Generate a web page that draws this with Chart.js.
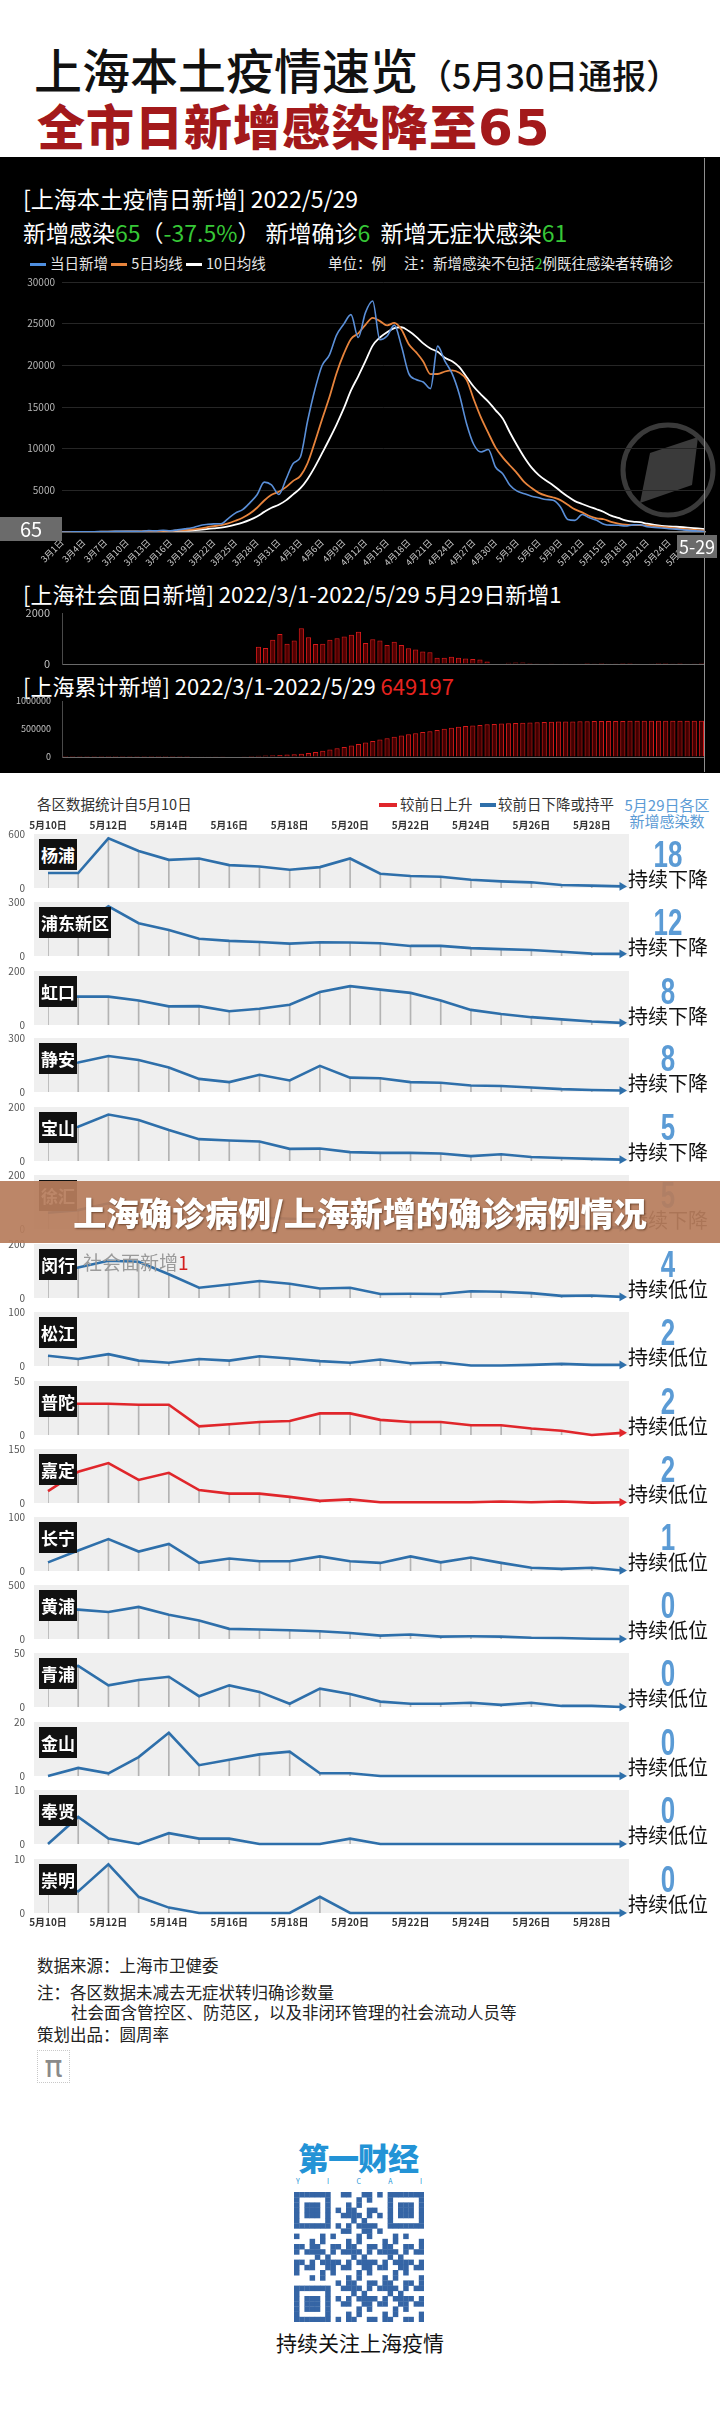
<!DOCTYPE html>
<html lang="zh-CN">
<head>
<meta charset="utf-8">
<title>上海本土疫情速览</title>
<script src="https://cdn.jsdelivr.net/npm/chart.js@4.4.1/dist/chart.umd.min.js"></script>
<style>
html,body{margin:0;padding:0;background:#fff;}
#page{position:relative;width:720px;height:2426px;overflow:hidden;background:#fff;font-family:"Noto Sans CJK SC","Noto Sans",sans-serif;}
.a{position:absolute;white-space:nowrap;line-height:1;}
canvas{position:absolute;}
.g{color:#37c837;}
.dash{display:inline-block;width:16px;height:3px;vertical-align:middle;margin:0 4px 2px 0;}
.tag{position:absolute;left:39px;height:31px;line-height:31px;padding:0 2px;background:#111;color:#fff;font-weight:bold;font-size:17px;z-index:5;white-space:nowrap;}
.bg{position:absolute;left:34px;width:595px;height:54px;background:#efefef;z-index:1;}
.num{position:absolute;left:627px;width:82px;text-align:center;line-height:1;font-family:"Liberation Sans",Arial,sans-serif;font-weight:bold;font-size:36px;color:#5b9bd5;z-index:3;}
.num span{display:inline-block;transform:scaleX(0.72);}
.trend{position:absolute;left:627px;width:82px;text-align:center;font-size:20px;line-height:1;color:#111;z-index:3;white-space:nowrap;}
</style>
</head>
<body>
<div id="page">
  <!-- header -->
  <div class="a" style="left:34px;top:44px;font-size:48px;font-weight:500;color:#111;">上海本土疫情速览<span style="font-size:34px;">（5月30日通报）</span></div>
  <div class="a" style="left:37px;top:100px;font-size:48px;font-weight:900;color:#a3191b;letter-spacing:1px;">全市日新增感染降至<span style="font-family:'DejaVu Sans',sans-serif;font-weight:bold;font-size:50px;letter-spacing:2px;">65</span></div>

  <!-- black panel -->
  <div class="a" style="left:0;top:157px;width:720px;height:616px;background:#000;"></div>
  <svg class="a" style="left:615px;top:418px;z-index:1" width="106" height="106">
    <circle cx="53" cy="52" r="45" fill="none" stroke="#3a3a3a" stroke-width="5"/>
    <polygon points="35,35 83,19 77,67 25,85" fill="#3a3a3a"/>
  </svg>
  <div class="a" style="left:704px;top:158px;width:1px;height:614px;background:#8f8f8f;z-index:3"></div>
  <div class="a" style="left:23px;top:187px;font-size:23px;color:#fff;">[上海本土疫情日新增] 2022/5/29</div>
  <div class="a" style="left:23px;top:221px;font-size:23px;color:#fff;">新增感染<span class="g">65</span>（<span class="g">-37.5%</span>）&nbsp;新增确诊<span class="g">6</span>&nbsp;&nbsp;新增无症状感染<span class="g">61</span></div>
  <div class="a" style="left:30px;top:256px;font-size:14.5px;color:#e6e6e6;"><span class="dash" style="background:#4f8fe0"></span>当日新增 <span class="dash" style="background:#e8843c"></span>5日均线 <span class="dash" style="background:#fff"></span>10日均线</div>
  <div class="a" style="left:328px;top:256px;font-size:14.5px;color:#e6e6e6;">单位：例</div>
  <div class="a" style="left:404px;top:256px;font-size:14.5px;color:#e6e6e6;">注：新增感染不包括<span class="g">2</span>例既往感染者转确诊</div>
  <div class="a" style="left:0;top:517px;width:62px;height:24px;line-height:24px;text-align:center;background:#6b6b6b;color:#fff;font-size:20px;z-index:4">65</div>
  <div class="a" style="left:677px;top:535px;width:40px;height:23px;line-height:23px;text-align:center;background:#6b6b6b;color:#fff;font-size:18px;z-index:4">5-29</div>
  <div class="a" style="left:23px;top:582px;font-size:22px;color:#fff;">[上海社会面日新增] 2022/3/1-2022/5/29 5月29日新增1</div>
  <div class="a" style="left:23px;top:674px;font-size:22px;color:#fff;">[上海累计新增] 2022/3/1-2022/5/29 <span style="color:#e8231f">649197</span></div>

  <!-- district header -->
  <div class="a" style="left:37px;top:797px;font-size:14.5px;color:#333;">各区数据统计自5月10日</div>
  <div class="a" style="left:379px;top:803px;width:18px;height:4px;background:#e0262b;"></div>
  <div class="a" style="left:400px;top:797px;font-size:14.5px;color:#333;">较前日上升</div>
  <div class="a" style="left:480px;top:803px;width:16px;height:4px;background:#2e6faa;"></div>
  <div class="a" style="left:498px;top:797px;font-size:14.5px;color:#333;">较前日下降或持平</div>
  <div class="a" style="left:624px;top:797px;width:86px;text-align:center;font-size:15px;color:#5b9bd5;">5月29日各区</div>
  <div class="a" style="left:624px;top:813px;width:86px;text-align:center;font-size:15px;color:#5b9bd5;">新增感染数</div>
  <div class="a" style="left:83px;top:1252px;font-size:19px;color:#9a9a9a;z-index:4">社会面新增<span style="color:#d42020">1</span></div>

  <!-- banner -->
  <div class="a" style="left:0;top:1181px;width:720px;height:62px;background:rgba(183,125,92,0.93);z-index:10;"></div>
  <div class="a" style="left:0;top:1196px;width:720px;text-align:center;font-size:33px;font-weight:900;color:#fff;z-index:11;text-shadow:1px 1px 2px rgba(60,30,10,0.6);">上海确诊病例/上海新增的确诊病例情况</div>

  <!-- footer -->
  <div class="a" style="left:37px;top:1957px;font-size:16.5px;color:#222;">数据来源：上海市卫健委</div>
  <div class="a" style="left:37px;top:1984px;font-size:16.5px;color:#222;">注：各区数据未减去无症状转归确诊数量</div>
  <div class="a" style="left:71px;top:2004px;font-size:16.5px;color:#222;">社会面含管控区、防范区，以及非闭环管理的社会流动人员等</div>
  <div class="a" style="left:37px;top:2026px;font-size:16.5px;color:#222;">策划出品：圆周率</div>
  <div class="a" style="left:37px;top:2050px;width:31px;height:31px;border:1px dotted #c8c8c8;text-align:center;line-height:31px;font-size:30px;color:#8a8a8a;font-family:'DejaVu Sans',sans-serif;">π</div>
  <div class="a" style="left:294px;top:2141px;width:128px;text-align:center;font-size:31px;font-weight:900;color:#2393d6;letter-spacing:-1px;">第一财经</div>
  <div class="a" style="left:296px;top:2178px;width:126px;font-size:7px;color:#2393d6;display:flex;justify-content:space-between;"><span>Y</span><span>I</span><span>C</span><span>A</span><span>I</span></div>
  <div id="qr" class="a" style="left:294px;top:2192px;width:130px;height:130px;"></div>
  <div class="a" style="left:0;top:2332px;width:720px;text-align:center;font-size:21px;color:#111;">持续关注上海疫情</div>
</div>

<script>
// ===== Data: Shanghai daily new infections, 2022/3/1 - 2022/5/29 =====
const dayLabels = ["3月1日","3月2日","3月3日","3月4日","3月5日","3月6日","3月7日","3月8日","3月9日","3月10日","3月11日","3月12日","3月13日","3月14日","3月15日","3月16日","3月17日","3月18日","3月19日","3月20日","3月21日","3月22日","3月23日","3月24日","3月25日","3月26日","3月27日","3月28日","3月29日","3月30日","3月31日","4月1日","4月2日","4月3日","4月4日","4月5日","4月6日","4月7日","4月8日","4月9日","4月10日","4月11日","4月12日","4月13日","4月14日","4月15日","4月16日","4月17日","4月18日","4月19日","4月20日","4月21日","4月22日","4月23日","4月24日","4月25日","4月26日","4月27日","4月28日","4月29日","4月30日","5月1日","5月2日","5月3日","5月4日","5月5日","5月6日","5月7日","5月8日","5月9日","5月10日","5月11日","5月12日","5月13日","5月14日","5月15日","5月16日","5月17日","5月18日","5月19日","5月20日","5月21日","5月22日","5月23日","5月24日","5月25日","5月26日","5月27日","5月28日","5月29日"];

const dailyNew = [2,8,16,19,28,48,55,65,80,75,
  83,65,169,139,202,158,260,374,509,758,
  896,981,983,1609,2269,2676,3500,4477,5982,5653,4502,
  6311,8226,9006,13354,17077,19982,21222,23624,24943,26087,
  23342,26330,27719,23072,23513,24820,22248,19000,18300,18000,
  17200,22300,20500,19000,16500,13000,10500,9600,9900,7800,
  7000,5600,4900,4600,4300,4100,3900,3800,3000,1500,
  1400,2100,1700,1400,940,820,810,720,860,870,
  630,560,480,390,340,260,170,120,65];

const avg5 = [2,5,9,11,15,24,33,43,55,65,
  72,76,94,106,131,147,186,227,301,412,
  559,704,825,1045,1348,1704,2207,2906,3781,4458,4823,
  5385,6135,6740,8280,10795,13529,16128,19052,21370,23172,
  23844,24865,25684,25310,24795,25091,24274,22531,21576,20474,
  18950,18960,19260,19400,19100,18260,15900,13720,11900,10160,
  8960,7980,7040,5980,5280,4700,4360,4140,3820,3260,
  2720,2360,1920,1640,1530,1210,1010,870,830,820,
  780,700,620,520,440,360,290,230,170];

const avg10 = [2,5,9,11,15,20,25,30,36,41,
  48,53,69,80,98,110,131,161,204,272,
  353,445,526,673,880,1132,1456,1866,2413,2903,3264,
  3796,4521,5261,6369,7809,9457,11132,12896,14825,16984,
  18687,20497,22368,23340,23984,24468,24570,24108,23443,22635,
  22020,21617,20896,20488,19787,18605,17430,16490,15650,14630,
  13610,11940,10380,8940,7720,6830,6170,5590,4900,4270,
  3710,3360,3030,2730,2395,1965,1685,1395,1235,1175,
  995,855,745,675,630,570,495,425,345];

const socialNew = [0,0,0,0,0,0,0,0,0,0,
  0,0,0,0,0,0,0,0,0,0,
  0,0,0,0,0,0,0,680,630,950,1180,
  790,920,1400,1050,780,790,950,1010,1080,1150,
  1260,820,970,920,750,870,750,620,570,490,
  460,250,250,280,250,220,200,180,100,20,
  20,50,60,60,40,10,15,10,20,5,
  15,5,3,12,3,5,10,4,3,5,
  15,8,4,3,10,2,6,10,1];

const cumulative = [2,10,26,45,73,121,176,241,321,396,
  479,544,713,852,1054,1212,1472,1846,2355,3113,
  4009,4990,5973,7582,9851,12527,16027,20504,26486,32139,36641,
  42952,51178,60184,73538,90615,110597,131819,155443,180386,206473,
  231000,258000,286500,310500,335000,361000,384500,405500,425500,444730,
  461930,484230,504730,523730,540230,553230,563730,573330,583230,591030,
  598360,604030,609010,613660,617930,622140,626110,630060,633070,634560,
  636010,638110,639790,641160,642100,642920,643730,644450,645310,646180,
  646810,647370,647850,648240,648580,648840,649010,649132,649197];

// ===== District data, 5/10 - 5/29 =====
const districtDates = ["5月10日","5月11日","5月12日","5月13日","5月14日","5月15日","5月16日","5月17日","5月18日","5月19日","5月20日","5月21日","5月22日","5月23日","5月24日","5月25日","5月26日","5月27日","5月28日","5月29日"];
const districtNames = ["杨浦","浦东新区","虹口","静安","宝山","徐汇","闵行","松江","普陀","嘉定","长宁","黄浦","青浦","金山","奉贤","崇明"];
const districtAxisMax = [600,300,200,300,200,200,200,100,50,150,100,500,50,20,10,10];
const latestNew = [18,12,8,8,5,5,4,2,2,2,1,0,0,0,0,0];
const trendText = ["持续下降","持续下降","持续下降","持续下降","持续下降","持续下降","持续低位","持续低位","持续低位","持续低位","持续低位","持续低位","持续低位","持续低位","持续低位","持续低位"];
const risingLastDay = [false,false,false,false,false,false,false,false,true,true,false,false,false,false,false,false];

const yangpu    = [166,166,552,412,313,328,254,239,203,232,328,158,133,125,92,74,63,33,26,18];
const pudong    = [170,160,276,182,145,96,84,78,69,76,75,71,56,56,44,38,33,24,13,12];
const hongkou   = [106,105,105,91,69,70,51,60,75,122,144,131,119,91,56,41,29,21,13,8];
const jingan    = [160,164,200,178,136,73,55,96,64,145,80,76,55,51,36,33,25,16,11,8];
const baoshan   = [115,127,172,152,115,81,76,72,45,46,33,30,30,28,18,25,15,11,8,5];
const xuhui     = [60,70,95,80,60,45,40,42,38,35,40,30,28,25,22,18,15,12,8,5];
const minhang   = [88,113,138,134,88,38,50,63,53,35,38,15,16,15,25,23,18,8,9,4];
const songjiang = [19,13,22,10,6,13,10,18,14,9,6,12,5,7,1,1,2,4,2,2];
const putuo     = [29,29,29,28,28,8,10,12,13,20,20,14,12,12,9,9,6,4,0,2];
const jiading   = [33,87,111,64,84,36,26,26,17,6,10,2,2,2,2,4,2,4,1,2];
const changning = [16,38,59,36,50,15,23,18,18,27,18,15,27,16,25,15,6,4,6,1];
const huangpu   = [272,272,250,297,225,172,94,88,81,72,56,31,41,22,25,22,12,9,3,0];
const qingpu    = [32,38,20,25,28,10,20,14,3,17,12,5,3,3,4,2,4,1,1,0];
const jinshan   = [0,3,1,7,16,4,6,8,9,1,1,0,0,0,0,0,0,0,0,0];
const fengxian  = [0,5,1,0,2,1,1,0,0,0,1,0,0,0,0,0,0,0,0,0];
const chongming = [5,4,9,3,1,0,0,0,0,3,0,0,0,0,0,0,0,0,0,0];
const districtSeries = [yangpu,pudong,hongkou,jingan,baoshan,xuhui,minhang,songjiang,putuo,jiading,changning,huangpu,qingpu,jinshan,fengxian,chongming];

// ===== Rendering =====
Chart.defaults.font.family = "'Noto Sans CJK SC','Noto Sans',sans-serif";
const page = document.getElementById('page');

function makeCanvas(left, top, w, h, z){
  const c = document.createElement('canvas');
  c.width = w; c.height = h;
  c.style.left = left + 'px'; c.style.top = top + 'px';
  c.style.width = w + 'px'; c.style.height = h + 'px';
  c.style.zIndex = z || 2;
  page.appendChild(c);
  return c;
}
function addDiv(cls, css, html){
  const d = document.createElement('div');
  d.className = cls; d.style.cssText = css; d.innerHTML = html;
  page.appendChild(d);
  return d;
}
// fix a vertical axis' width and stop its tick padding from shrinking the plot vertically
function fixY(width){
  return s => { s.width = width; s.paddingTop = 0; s.paddingBottom = 0; };
}
const plainNum = v => String(v);
const baseOpts = {responsive:false, animation:false, events:[], plugins:{legend:{display:false}, tooltip:{enabled:false}}};

// main daily line chart
new Chart(makeCanvas(0, 274, 720, 296), {
  type:'line',
  data:{labels:dayLabels, datasets:[
    {label:'当日新增', data:dailyNew, borderColor:'#5a8fd8', borderWidth:1.6, cubicInterpolationMode:'monotone', pointRadius:0},
    {label:'5日均线', data:avg5, borderColor:'#e8843c', borderWidth:1.8, cubicInterpolationMode:'monotone', pointRadius:0},
    {label:'10日均线', data:avg10, borderColor:'#ffffff', borderWidth:1.8, cubicInterpolationMode:'monotone', pointRadius:0}
  ]},
  options:Object.assign({}, baseOpts, {
    layout:{padding:{top:8, right:15, left:0, bottom:0}},
    scales:{
      x:{offset:false, grid:{display:true, color:'rgba(0,0,0,0)', drawTicks:false}, border:{display:true, color:'#8c8c8c', width:1.5},
         ticks:{autoSkip:false, minRotation:45, maxRotation:45, color:'#c8c8c8', font:{size:9}, padding:5,
           callback:function(v,i){ return i % 3 === 0 ? this.getLabelForValue(v) : null; }},
         afterFit:s=>{ s.height = 38; }},
      y:{min:0, max:30000, grid:{color:'#262626', drawTicks:false}, border:{display:false},
         ticks:{stepSize:5000, color:'#b5b5b5', font:{size:10}, padding:7, callback:plainNum},
         afterFit:fixY(62)}
    }
  })
});

// social-face daily bars
new Chart(makeCanvas(0, 605, 720, 65), {
  type:'bar',
  data:{labels:dayLabels, datasets:[{data:socialNew, backgroundColor:'rgba(150,0,0,0.55)', borderColor:'#d41a1a', borderWidth:1, categoryPercentage:0.85, barPercentage:0.85}]},
  options:Object.assign({}, baseOpts, {
    layout:{padding:{top:8, right:15, left:0, bottom:6}},
    scales:{
      x:{display:false},
      y:{min:0, max:2000, border:{display:true, color:'#4a4a4a'},
         grid:{drawTicks:false, color:c=> (c.tick && c.tick.value === 0) ? '#6a6a6a' : 'rgba(0,0,0,0)'},
         ticks:{stepSize:2000, color:'#c0c0c0', font:{size:11}, padding:12, callback:plainNum},
         afterFit:fixY(62)}
    }
  })
});

// cumulative bars
new Chart(makeCanvas(0, 695, 720, 77), {
  type:'bar',
  data:{labels:dayLabels, datasets:[{data:cumulative, backgroundColor:'rgba(120,0,0,0.55)', borderColor:'#d41a1a', borderWidth:1, categoryPercentage:0.85, barPercentage:0.85}]},
  options:Object.assign({}, baseOpts, {
    layout:{padding:{top:6, right:15, left:0, bottom:15}},
    scales:{
      x:{display:false},
      y:{min:0, max:1000000, border:{display:true, color:'#4a4a4a'},
         grid:{drawTicks:false, color:c=> (c.tick && c.tick.value === 0) ? '#6a6a6a' : 'rgba(0,0,0,0)'},
         ticks:{stepSize:500000, color:'#c0c0c0', font:{size:9}, padding:11, callback:plainNum},
         afterFit:fixY(62)}
    }
  })
});

// district small multiples
const panelTops = [834,902,971,1038,1107,1175,1244,1312,1381,1449,1517,1585,1653,1722,1790,1859];
districtNames.forEach((name, i) => {
  const top = panelTops[i];
  const first = i === 0, last = i === districtNames.length - 1;
  const showX = first || last;
  const color = risingLastDay[i] ? '#e0262b' : '#2e6faa';
  const data = districtSeries[i];
  const nLast = data.length - 1;
  addDiv('bg', 'top:' + top + 'px;', '');
  addDiv('tag', 'top:' + (top + 5) + 'px;', name);
  addDiv('num', 'top:' + (top + 3) + 'px;', '<span>' + latestNew[i] + '</span>');
  addDiv('trend', 'top:' + (top + 35) + 'px;', trendText[i]);
  const padTop = first ? 6 : 8;
  const axisH = showX ? 14 : 0;
  const padBottom = last ? 0 : 8;
  const h = padTop + axisH + 54 + padBottom;
  const cTop = first ? top - padTop - axisH : top - padTop;
  new Chart(makeCanvas(0, cTop, 640, h, 2), {
    type:'line',
    data:{labels:districtDates, datasets:[
      {type:'line', data:data, borderColor:color, borderWidth:2.6, tension:0, clip:false, order:1,
       pointRadius:c=> c.dataIndex === nLast ? 5 : 0, pointStyle:'triangle', pointRotation:90,
       pointBackgroundColor:color, pointBorderWidth:0},
      {type:'bar', data:data, backgroundColor:'#b3b3b3', barThickness:1, order:2}
    ]},
    options:Object.assign({}, baseOpts, {
      layout:{padding:{top:padTop, right:18, left:0, bottom:padBottom}},
      scales:{
        x:{type:'category', offset:false, display:showX, position:first ? 'top' : 'bottom',
           grid:{display:false, drawTicks:false}, border:{display:false},
           ticks:{autoSkip:false, maxRotation:0, minRotation:0, color:'#333', font:{size:10, weight:'bold'}, padding:3,
             callback:function(v,idx){ return idx % 2 === 0 ? this.getLabelForValue(v) : null; }},
           afterFit:s=>{ s.height = showX ? 14 : 0; }},
        y:{min:0, max:districtAxisMax[i], grid:{display:false, drawTicks:false}, border:{display:false},
           ticks:{stepSize:districtAxisMax[i], color:'#555', font:{size:10}, padding:23, callback:plainNum},
           afterFit:fixY(48)}
      }
    })
  });
});

// decorative QR-style block
(function(){
  const N = 25, m = 130 / N;
  let s = '<svg width="130" height="130" xmlns="http://www.w3.org/2000/svg">';
  function inFinder(x, y){
    return (x < 7 && y < 7) || (x >= N - 7 && y < 7) || (x < 7 && y >= N - 7);
  }
  for (let y = 0; y < N; y++) for (let x = 0; x < N; x++) {
    let on;
    if (inFinder(x, y)) {
      const lx = x < 7 ? x : x - (N - 7), ly = y < 7 ? y : y - (N - 7);
      on = lx === 0 || lx === 6 || ly === 0 || ly === 6 || (lx >= 2 && lx <= 4 && ly >= 2 && ly <= 4);
    } else if ((x === 7 && (y < 8 || y >= N - 8)) || (y === 7 && (x < 8 || x >= N - 8)) || (x === N - 8 && y < 8) || (y === N - 8 && x < 8)) {
      on = false;
    } else {
      on = ((x * x * 3 + y * 7 + x * y * 5 + x + y * y) % 7) < 3;
    }
    if (on) s += '<rect x="' + (x * m).toFixed(2) + '" y="' + (y * m).toFixed(2) + '" width="' + (m + 0.3).toFixed(2) + '" height="' + (m + 0.3).toFixed(2) + '" fill="#3565a5"/>';
  }
  s += '</svg>';
  document.getElementById('qr').innerHTML = s;
})();
</script>
</body>
</html>
